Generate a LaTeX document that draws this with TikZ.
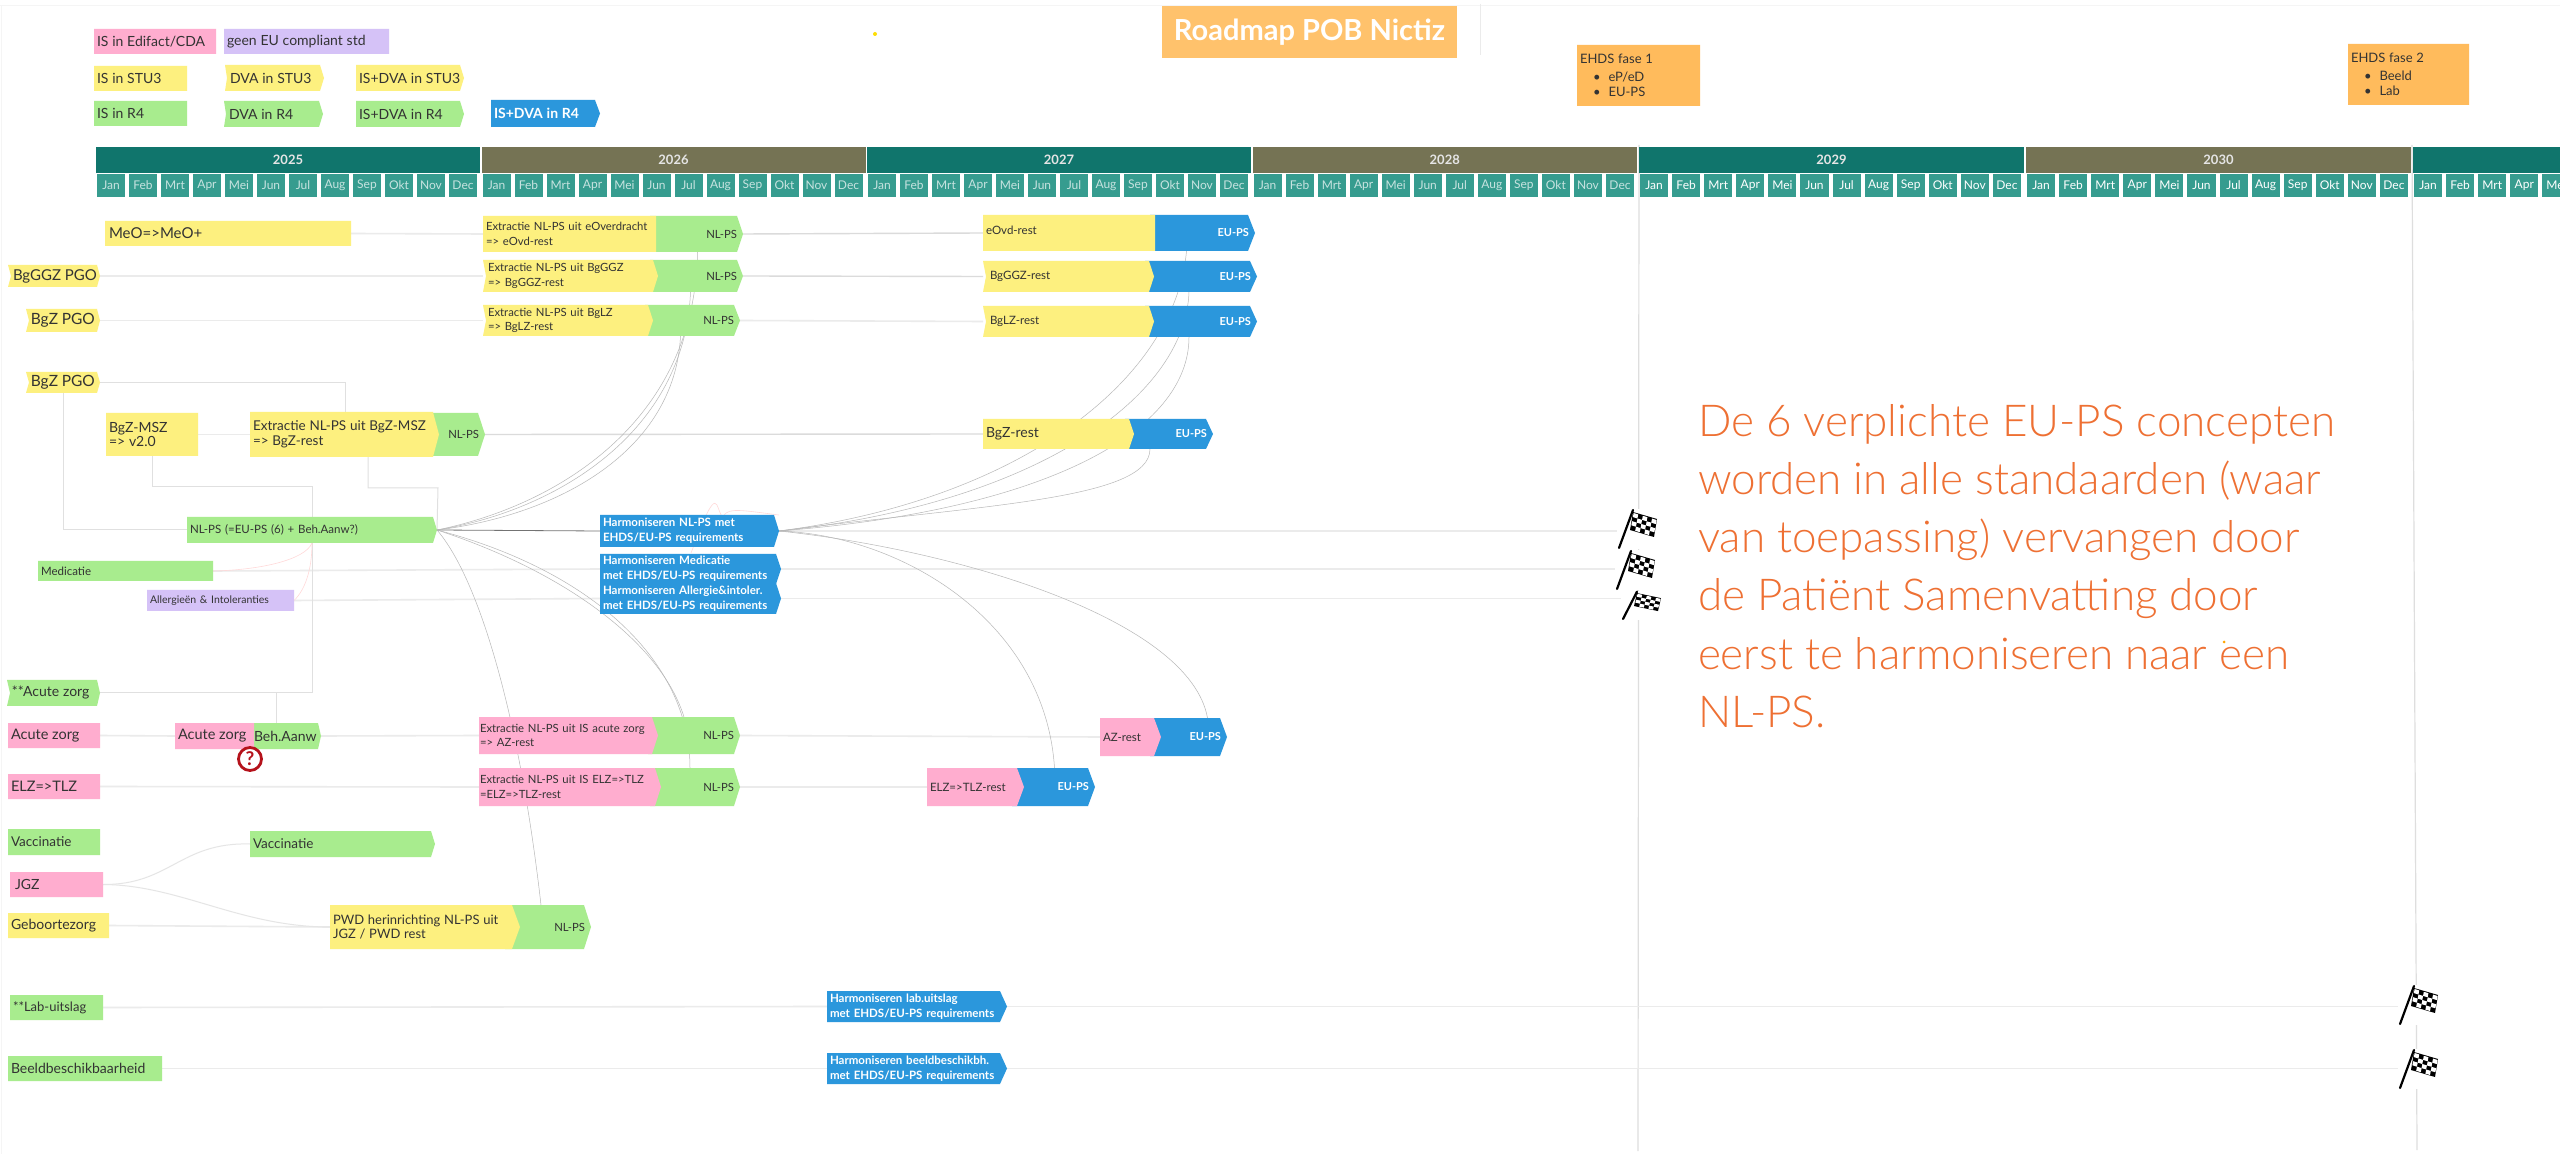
\documentclass[tikz,border=0pt]{standalone}
\usepackage{fontspec}
\setmainfont{Lato}
\newfontfamily\bigfont{Lato Light}
\usetikzlibrary{calc}
\pgfdeclarelayer{background}
\pgfsetlayers{background,main}
\definecolor{cyel}{HTML}{FDF07F}
\definecolor{cgrn}{HTML}{A8EC8E}
\definecolor{cpnk}{HTML}{FFADCF}
\definecolor{cpur}{HTML}{D5C2F7}
\definecolor{cblu}{HTML}{2B97DC}
\definecolor{corg}{HTML}{FFBB5C}
\definecolor{cyrA}{HTML}{10756C}
\definecolor{cyrB}{HTML}{757354}
\definecolor{cmon}{HTML}{369C8F}
\definecolor{ctxt}{HTML}{333333}
\definecolor{cbig}{HTML}{EE7033}
\definecolor{cred}{HTML}{B5121B}
\newcommand\sz[1]{\fontsize{\fpeval{#1*0.5}}{\fpeval{#1*0.65}}\selectfont}
\newcommand\rt[1]{\hspace*{\fill}#1\kern 1.5pt}
\newcommand\wb[2]{\sz{#1}\bfseries\color{white}#2}
% #1 fill, #2 name, #3 x1, #4 x2, #5 y1, #6 y2, #7 notch, #8 tip, #9 text
\newcommand\bx[9]{%
  \path[fill=#1] (#3,#5) -- ({#4-#8},#5) -- (#4,{(#5+#6)/2}) -- ({#4-#8},#6) -- (#3,#6) -- ({#3+#7},{(#5+#6)/2}) -- cycle;
  \pgfmathsetlengthmacro\bxw{(#4-#3)*0.5pt}%
  \pgfmathsetlengthmacro\bxt{(#4-#3-6)*0.5pt}%
  \pgfmathsetlengthmacro\bxh{(#6-#5)*0.5pt}%
  \node[boxtext,minimum width=\bxw,minimum height=\bxh,text width=\bxt] (#2) at ({(#3+#4)/2},{(#5+#6)/2}) {#9};%
}
\newcommand\flag[4]{% name, x, y, scale options
  \begin{scope}[shift={(#2,#3)},#4]
    \coordinate (#1) at (7,-19);
    \fill[white] (-2,1) rectangle (40,-39);
    \draw[black,line width=1.1pt,line cap=round] (0,0) -- (14,-38);
    \fill[black] (14,-36) -- (38,-29) -- (35,-11) -- (11,-18) -- cycle;
    \foreach \i in {0,...,4}{\foreach \j in {0,...,3}{
      \pgfmathparse{int(mod(\i+\j,2))}
      \ifnum\pgfmathresult=0
      \fill[white] ({14.6+\i*4.6-\j*0.75},{-35+\i*1.4+\j*4.1}) -- ({14.6+(\i+1)*4.6-\j*0.75},{-35+(\i+1)*1.4+\j*4.1}) -- ({14.6+(\i+1)*4.6-(\j+1)*0.75},{-35+(\i+1)*1.4+(\j+1)*4.1}) -- ({14.6+\i*4.6-(\j+1)*0.75},{-35+\i*1.4+(\j+1)*4.1}) -- cycle;
      \fi
    }}
  \end{scope}
}
\tikzset{
  boxtext/.style={inner sep=0pt,outer sep=0pt,align=left,text=ctxt,font=\sz{11.3}},
  yearbox/.style={inner sep=0pt,outer sep=0pt,text=white!90!black,font=\sz{13}\bfseries},
  monthbox/.style={inner sep=0pt,outer sep=0pt,fill=cmon,font=\sz{12}},
  lineA/.style={draw=black!8,line width=0.8pt},
  lineB/.style={draw=black!14,line width=0.7pt},
  lineC/.style={draw=black!12,line width=0.5pt},
  thin1/.style={draw=black!28,line width=0.25pt},
  pinkl/.style={draw=red!15,line width=0.3pt},
  dark1/.style={draw=black!55,line width=0.4pt},
  vline/.style={draw=black!13,line width=0.6pt},
}
\begin{document}
\begin{tikzpicture}[x=0.5pt,y=-0.5pt]
\clip (0,0) rectangle (2560,1154);
\useasboundingbox (0,0) rectangle (2560,1154);
\node[fill=corg!90!white,text=white,inner sep=0pt,outer sep=0pt,minimum width=147.5pt,minimum height=26pt,font=\sz{29}\bfseries] (title) at (1309.5,32) {Roadmap POB Nictiz};
\fill[yellow!80!orange] (875,34) circle (2);
% legend
\bx{cpnk}{lgA}{94}{216}{29}{54}{0}{0}{\sz{14}IS in Edifact/CDA}
\bx{cpur}{lgB}{224}{389}{29}{54}{0}{0}{\sz{14}geen EU compliant std}
\bx{cyel}{lgC}{94}{187}{66}{91}{0}{0}{\sz{14}IS in STU3}
\bx{cyel}{lgD}{225}{324}{65}{91}{2}{4}{\sz{14}\hspace*{1pt}DVA in STU3}
\bx{cyel}{lgE}{356}{464}{65}{91}{0}{4}{\sz{14}IS+DVA in STU3}
\bx{cgrn}{lgF}{94}{187}{101}{126}{0}{0}{\sz{14}IS in R4}
\bx{cgrn}{lgG}{224}{323}{101}{127}{2}{4}{\sz{14}\hspace*{1pt}DVA in R4}
\bx{cgrn}{lgH}{356}{464}{101}{127}{0}{4}{\sz{14}IS+DVA in R4}
\bx{cblu}{lgI}{491}{600}{100}{127}{0}{5}{\wb{14}{IS+DVA in R4}}
% EHDS
\bx{corg}{fa}{1577}{1700}{45}{106}{0}{0}{\sz{13}EHDS fase 1\\[0.5pt]\hspace*{6.5pt}\textbullet\hspace*{4pt}eP/eD\\[0.5pt]\hspace*{6.5pt}\textbullet\hspace*{4pt}EU-PS}
\bx{corg}{fb}{2348}{2469}{44}{105}{0}{0}{\sz{13}EHDS fase 2\\[0.5pt]\hspace*{6.5pt}\textbullet\hspace*{4pt}Beeld\\[0.5pt]\hspace*{6.5pt}\textbullet\hspace*{4pt}Lab}
% calendar
\foreach \yr/\xa/\xb/\col/\lab in {2025/96/480/cyrA/2025,2026/481.5/865.5/cyrB/2026,2027/867/1251/cyrA/2027,2028/1252.5/1637/cyrB/2028,2029/1639/2024/cyrA/2029,2030/2026/2411/cyrB/2030,2031/2413/2798/cyrA/{}}{
  \pgfmathsetlengthmacro\yw{(\xb-\xa)*0.5pt}
  \node[yearbox,fill=\col,minimum width=\yw,minimum height=13pt] (y\yr) at ({(\xa+\xb)/2},160) {\lab};
  \pgfmathsetlengthmacro\mw{(\xb-\xa)/12*0.5pt-2pt}
  \pgfmathtruncatemacro\brt{\yr>2028 ? 1 : 0}
  \foreach \m [count=\k from 0] in {Jan,Feb,Mrt,Apr,Mei,Jun,Jul,Aug,Sep,Okt,Nov,Dec}{
    \pgfmathtruncatemacro\skp{(\yr>2030 && \k>4) ? 1 : 0}
    \ifnum\skp=0
    \ifnum\brt=1
    \node[monthbox,text=white,minimum width=\mw,minimum height=11.5pt] (m\yr\k) at ({\xa+(\k+0.5)*(\xb-\xa)/12-1},185.5) {\m};
    \else
    \node[monthbox,text=white!72!cmon,minimum width=\mw,minimum height=11.5pt] (m\yr\k) at ({\xa+(\k+0.5)*(\xb-\xa)/12-1},185.5) {\m};
    \fi
    \fi
  }
}
% row 1-3
\bx{cyel}{meo}{105}{351}{221}{246}{0}{0}{\sz{15}\hspace*{.5pt}MeO=>MeO+}
\bx{cgrn}{exAg}{650}{743}{216}{252}{0}{6}{\rt{NL-PS}}
\bx{cyel}{exA}{483}{656}{216}{252}{0}{0}{Extractie NL-PS uit eOverdracht\\=> eOvd-rest}
\bx{cyel}{pgoA}{8}{100}{265}{287}{3}{3}{\sz{15}\hspace*{1pt}\mbox{BgGGZ PGO}}
\bx{cgrn}{exBg}{650}{743}{260}{292}{0}{6}{\rt{NL-PS}}
\bx{cyel}{exB}{483}{658}{260}{292}{3}{5}{\hspace*{1pt}Extractie NL-PS uit BgGGZ\\\hspace*{1pt}=> BgGGZ-rest}
\bx{cyel}{pgoB}{26}{100}{309}{332}{3}{3}{\sz{15.5}\hspace*{1pt}BgZ PGO}
\bx{cgrn}{exCg}{645}{740}{305}{336}{0}{6}{\rt{NL-PS}}
\bx{cyel}{exC}{483}{653}{305}{336}{3}{5}{\hspace*{1pt}Extractie NL-PS uit BgLZ\\\hspace*{1pt}=> BgLZ-rest}
\bx{cblu}{euAb}{1150}{1255}{215}{251}{0}{7}{\rt{\wb{11}{EU-PS}}}
\bx{cyel}{euA}{983}{1155}{215}{251}{0}{0}{\raisebox{3pt}{\sz{11.5}eOvd-rest}}
\bx{cblu}{euBb}{1145}{1257}{261}{292}{0}{7}{\rt{\wb{11}{EU-PS}}}
\bx{cyel}{euB}{983}{1154}{261}{292}{3}{5}{\sz{11.5}\hspace*{2pt}BgGGZ-rest}
\bx{cblu}{euCb}{1145}{1257}{306}{337}{0}{7}{\rt{\wb{11}{EU-PS}}}
\bx{cyel}{euC}{983}{1154}{306}{337}{3}{5}{\sz{11.5}\hspace*{2pt}BgLZ-rest}
% BgZ
\bx{cyel}{pgoC}{26}{100}{372}{393}{3}{3}{\sz{15.5}\hspace*{1pt}BgZ PGO}
\bx{cyel}{msz}{106}{198}{413}{456}{0}{0}{\sz{14}BgZ-MSZ\\=> v2.0}
\bx{cgrn}{exDg}{425}{485}{413}{456}{0}{7}{\rt{NL-PS}}
\bx{cyel}{exD}{250}{439}{412}{457}{0}{6}{\sz{13.5}Extractie NL-PS uit BgZ-MSZ\\=> BgZ-rest}
\bx{cblu}{euDb}{1125}{1213}{419}{449}{0}{7}{\rt{\wb{11}{EU-PS}}}
\bx{cyel}{euD}{983}{1134}{419}{449}{0}{5}{\sz{14}BgZ-rest}
% NL-PS core
\bx{cgrn}{nlps}{187}{437}{517}{543}{0}{4}{\sz{11.5}NL-PS  (=EU-PS (6) + Beh.Aanw?)}
\bx{cgrn}{med}{38}{213}{561}{581}{0}{0}{\sz{11.5}Medicatie}
\bx{cpur}{all}{147}{294}{590}{611}{0}{0}{\sz{10.5}Allergieën \& Intoleranties}
\bx{cblu}{blA}{600}{779}{515}{547}{0}{5}{\wb{11.5}{Harmoniseren NL-PS  met\\EHDS/EU-PS requirements}}
\bx{cblu}{blB}{600}{781}{554}{584}{0}{5}{\wb{11.5}{Harmoniseren Medicatie\\met EHDS/EU-PS requirements}}
\bx{cblu}{blC}{600}{781}{583}{614}{0}{5}{\wb{11.5}{Harmoniseren Allergie\&intoler.\\met EHDS/EU-PS requirements}}
% acute zorg
\bx{cgrn}{azS}{7}{100}{680}{706}{3}{3}{\sz{14}\hspace*{1pt}**Acute zorg}
\bx{cpnk}{azL}{8}{100}{723}{748}{0}{0}{\sz{14.5}Acute zorg}
\bx{cgrn}{behA}{250}{321}{723}{749}{0}{3}{\sz{14}\hspace*{.5pt}Beh.Aanw}
\bx{cpnk}{azM}{175}{254}{723}{749}{0}{0}{\sz{14.5}Acute zorg}
\bx{cgrn}{exEg}{648}{740}{717}{754}{0}{6}{\rt{NL-PS}}
\bx{cpnk}{exE}{479}{658}{717}{754}{0}{6}{\hspace*{-1pt}Extractie NL-PS uit IS acute zorg\\\hspace*{-1pt}=> AZ-rest}
\bx{cblu}{euEb}{1150}{1227}{718}{756}{0}{7}{\rt{\wb{11}{EU-PS}}}
\bx{cpnk}{euE}{1100}{1161}{718}{756}{0}{7}{\sz{11.5}AZ-rest}
\bx{cpnk}{elzL}{8}{100}{774}{799}{0}{0}{\sz{14.5}ELZ=>TLZ}
\bx{cgrn}{exFg}{650}{740}{768}{806}{0}{6}{\rt{NL-PS}}
\bx{cpnk}{exF}{479}{661}{768}{806}{0}{6}{\hspace*{-1pt}Extractie NL-PS uit IS ELZ=>TLZ\\\hspace*{-1pt}=ELZ=>TLZ-rest}
\bx{cblu}{euFb}{1012}{1095}{768}{806}{0}{7}{\rt{\wb{11}{EU-PS}}}
\bx{cpnk}{euF}{927}{1024}{768}{806}{0}{7}{\sz{11.5}ELZ=>TLZ-rest}
\node[circle,draw=cred,fill=white,line width=1.4pt,inner sep=0pt,outer sep=0pt,minimum size=11.5pt,text=cred,font=\sz{19}\bfseries] (qm) at (250,759) {?};
% lower
\bx{cgrn}{vacL}{8}{100}{829}{855}{0}{0}{\sz{13.5}Vaccinatie}
\bx{cgrn}{vacM}{250}{435}{831}{857}{0}{4}{\sz{13.5}Vaccinatie}
\bx{cpnk}{jgz}{10}{103}{872}{897}{0}{0}{\sz{14}\hspace*{1pt}JGZ}
\bx{cyel}{geb}{8}{109}{913}{938}{0}{0}{\sz{14}Geboortezorg}
\bx{cgrn}{pwdg}{505}{591}{905}{949}{0}{7}{\rt{NL-PS}}
\bx{cyel}{pwd}{330}{520}{905}{949}{0}{8}{\sz{13}PWD herinrichting NL-PS uit\\JGZ / PWD rest}
\bx{cgrn}{lab}{10}{103}{995}{1020}{0}{0}{\sz{13}**Lab-uitslag}
\bx{cgrn}{bee}{8}{162}{1056}{1081}{0}{0}{\sz{14}Beeldbeschikbaarheid}
\bx{cblu}{blD}{827}{1007}{991}{1022}{0}{7}{\wb{11.5}{Harmoniseren lab.uitslag\\met EHDS/EU-PS requirements}}
\bx{cblu}{blE}{827}{1007}{1053}{1084}{0}{7}{\wb{11.5}{Harmoniseren beeldbeschikbh.\\met EHDS/EU-PS requirements}}
% flags
\flag{flA}{1619}{548}{scale=1}
\flag{flB}{1617}{589}{scale=1}
\flag{flC}{1623}{619}{xscale=1,yscale=0.72}
\flag{flD}{2400}{1024}{scale=1}
\flag{flE}{2400}{1088}{scale=1}
% big text
\node[anchor=north west,inner sep=0pt,outer sep=0pt,align=left,text=cbig,font=\bigfont\fontsize{22}{29.15}\selectfont] (bigtxt) at (1698,404) {De 6 verplichte EU-PS concepten\\worden in alle standaarden (waar\\van toepassing) vervangen door\\de Patiënt Samenvatting door\\eerst te harmoniseren naar een\\NL-PS.};
\fill[orange!70!yellow] (2224,642) circle (1.5);
% connectors
\begin{pgfonlayer}{background}
\fill[white] (0,0) rectangle (2560,1154);
\draw[black!4,line width=0.5pt] (0,6) -- (2560,6);
\draw[black!4,line width=0.5pt] (1.5,6) -- (1.5,1154);
\draw[black!8,line width=0.5pt] (1480,4) -- (1480,55);
\path[vline] (y2029.north west) ++(0,-2) -- (1638,1151);
\path[vline] (y2031.north west) ++(-1,-2) -- (2417,1150);
% horizontal links
\path[lineA] (meo.east) -- (exA.west);
\path[lineA] (pgoA.east) -- (exB.west);
\path[lineA] (pgoB.east) -- (exC.west);
\path[lineB] (exAg.east) -- (euA.west);
\path[lineB] (exBg.east) -- (euB.west);
\path[lineA] (exCg.east) -- (euC.west);
\path[lineA] (msz.east) -- (exD.west);
\path[lineB] (exDg.east) -- (euD.west);
\path[lineA] (azL.east) -- (azM.west);
\path[lineA] (behA.east) -- (exE.west);
\path[lineA] (exEg.east) -- (euE.west);
\path[lineA] (elzL.east) -- (exF.west);
\path[lineA] (exFg.east) -- (euF.west);
\path[lineA] (geb.east) -- (pwd.west);
\path[lineA] (lab.east) -- (blD.west);
\path[lineA] (blD.east) -- (blD.east -| flD);
\path[lineA] (bee.east) -- (blE.west);
\path[lineA] (blE.east) -- (blE.east -| flE);
\path[lineA] (med.east) -- (blB.west);
\path[lineA] (blB.east) -- (blB.east -| flB);
\path[lineA] (all.east) -- (blC.west);
\path[lineA] (blC.east) -- (blC.east -| flC);
\path[lineA] (blA.east) -- (blA.east -| flA);
\path[dark1] (nlps.east) -- (blA.west);
% elbows
\path[lineC] (pgoC.east) -| ($(exD.north west)+(95,0)$);
\path[lineC] ($(pgoC.south west)+(37,0)$) |- (nlps.west);
\path[lineC] (msz.south) |- (312,487) -- (nlps.north);
\path[lineC] ($(exD.south west)+(118,0)$) |- (438,488) -- (nlps.east);
\path[lineC] (nlps.south) |- (azS.east);
\path[lineC] ($(behA.north)+(-9.5,0)$) -- ++(0,-30);
% fine curves
\path[thin1] (nlps.east) .. controls (560,505) and (695,420) .. ($(exAg.south)+(1,0)$);
\path[thin1] (nlps.east) .. controls (560,510) and (685,430) .. ($(exBg.south)+(-6,0)$);
\path[thin1] (nlps.east) .. controls (560,515) and (675,450) .. ($(exCg.south)+(-12,0)$);
\path[thin1] (nlps.east) .. controls (560,570) and (660,640) .. ($(exEg.north)+(-10,0)$);
\path[thin1] (nlps.east) .. controls (590,570) and (690,660) .. ($(exFg.north)+(-5,0)$);
\path[thin1] (nlps.east) .. controls (480,580) and (520,720) .. ($(pwdg.north)+(-7,0)$);
\path[thin1] (blA.east) .. controls (1020,500) and (1175,380) .. ($(euAb.south)+(-16,0)$);
\path[thin1] (blA.east) .. controls (1030,505) and (1185,400) .. ($(euBb.south)+(-12,0)$);
\path[thin1] (blA.east) .. controls (1050,510) and (1189,430) .. ($(euCb.south)+(-12,0)$);
\path[thin1] (blA.east) .. controls (980,505) and (1150,500) .. ($(euDb.south)+(-19,0)$);
\path[thin1] (blA.east) .. controls (960,550) and (1190,620) .. ($(euEb.north)+(19,0)$);
\path[thin1] (blA.east) .. controls (900,535) and (1045,620) .. ($(euFb.north)+(1,0)$);
% reddish curves
\path[pinkl] (nlps.south) .. controls (305,560) and (260,570) .. (med.east);
\path[pinkl] (nlps.south) .. controls (312,570) and (305,590) .. (all.east);
\path[pinkl] (691,553) .. controls (700,530) and (712,495) .. (717,505) .. controls (720,512) and (722,520) .. (724,515) .. controls (730,508) and (740,510) .. (blA.north east);
% JGZ curves
\path[draw=black!10,line width=0.5pt] (jgz.east) .. controls (170,885) and (180,842) .. (vacM.west);
\path[draw=black!10,line width=0.5pt] (jgz.east) .. controls (180,885) and (240,927) .. (pwd.west);
\end{pgfonlayer}
\end{tikzpicture}
\end{document}
